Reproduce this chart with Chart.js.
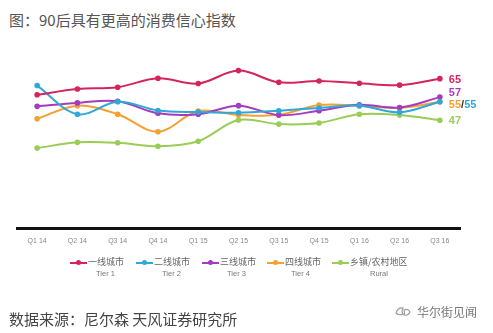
<!DOCTYPE html>
<html>
<head>
<meta charset="utf-8">
<script src="https://cdn.jsdelivr.net/npm/chart.js@4/dist/chart.umd.min.js"></script>
<style>
  html, body { margin: 0; padding: 0; background: #fff; }
  #wrap { position: relative; width: 493px; height: 333px; overflow: hidden; font-family: "Noto Sans CJK SC", "Noto Sans", sans-serif; }
  #chart { position: absolute; left: 0; top: 0; }
  .title { position: absolute; left: 9px; top: 9px; font-size: 15px; color: #555; white-space: nowrap; }
  .source { position: absolute; left: 9px; top: 308px; font-size: 15px; color: #444; white-space: nowrap; }
  .mark { position: absolute; left: 394px; top: 303px; font-size: 12px; color: #777; white-space: nowrap; display: flex; align-items: center; gap: 5px; }
  .legend { position: absolute; left: 0; top: 255px; width: 493px; height: 30px; }
  .item { position: absolute; top: 0; font-size: 9px; color: #666; white-space: nowrap; }
  .item .sw { position: absolute; top: 7px; left: 0; width: 17px; height: 2px; }
  .item .sw i { position: absolute; left: 6px; top: -2px; width: 5px; height: 5px; border-radius: 50%; }
  .item .cn { position: absolute; left: 18px; top: 0px; }
  .item .en { position: absolute; top: 14px; font-family: "Liberation Sans", sans-serif; font-size: 7.5px; color: #777; }
</style>
</head>
<body>
<div id="wrap">
  <div class="title">图：90后具有更高的消费信心指数</div>
  <canvas id="chart" width="493" height="333"></canvas>
  <div class="legend" id="legend"></div>
  <div class="source">数据来源：尼尔森 天风证券研究所</div>
  <div class="mark">
    <svg width="18" height="14" viewBox="0 0 18 14"><path d="M2 8 Q4 2 9 3 Q7 6 9 9 Q5 11 2 8 Z M10 5 Q14 3 16 7 Q14 11 10 10 Q11 8 10 5 Z" fill="none" stroke="#999" stroke-width="1.1"/></svg>
    <span>华尔街见闻</span>
  </div>
</div>
<script>
// Quarterly consumer confidence index by city tier
const quarters = ["Q1 14", "Q2 14", "Q3 14", "Q4 14", "Q1 15", "Q2 15", "Q3 15", "Q4 15", "Q1 16", "Q2 16", "Q3 16"];
const tier1 = [58, 60.5, 61.3, 65.2, 62.9, 68.5, 63.4, 64, 63, 62.2, 65];
const tier2 = [62, 49.6, 55, 51.2, 50.5, 50.2, 51.1, 52.3, 53.3, 50.4, 55];
const tier3 = [53, 54.5, 55.2, 50, 49.6, 53.3, 49.2, 51.1, 53.7, 52.5, 57];
const tier4 = [47.6, 53.3, 49.6, 42, 51, 49.3, 49.3, 53.6, 53.3, 52.3, 55];
const rural = [34.9, 37.4, 37.2, 35.7, 37.9, 47.1, 45.3, 45.8, 49.6, 49.2, 47];

const seriesNames = ["一线城市", "二线城市", "三线城市", "四线城市", "乡镇/农村地区"];
const seriesEn = ["Tier 1", "Tier 2", "Tier 3", "Tier 4", "Rural"];
const seriesColors = ["#d4245c", "#2fa8d8", "#a53cbf", "#f5a030", "#9acd55"];
const seriesData = [tier1, tier2, tier3, tier4, rural];

// legend, laid out by hand (Chinese name with English tier beneath)
const legendX = [70, 136, 202, 267, 332];
const legendEnX = [96, 162, 227, 291, 370];
const legendEl = document.getElementById("legend");
seriesNames.forEach((name, i) => {
  const it = document.createElement("div");
  it.className = "item";
  it.style.left = legendX[i] + "px";
  it.innerHTML = '<span class="sw" style="background:' + seriesColors[i] + '"><i style="background:' + seriesColors[i] + '"></i></span>' +
    '<span class="cn">' + name + '</span>' +
    '<span class="en" style="left:' + (legendEnX[i] - legendX[i]) + 'px">' + seriesEn[i] + '</span>';
  legendEl.appendChild(it);
});

// value tags at the right end of each line
const endLabels = {
  id: "endLabels",
  afterDatasetsDraw(chart) {
    const ctx = chart.ctx;
    const y = chart.scales.y;
    const metaX = (i) => chart.getDatasetMeta(i).data[quarters.length - 1].x;
    const x0 = metaX(0) + 9;
    ctx.save();
    ctx.font = "bold 11px 'Liberation Sans', sans-serif";
    ctx.textBaseline = "middle";
    ctx.textAlign = "left";
    const last = (arr) => arr[arr.length - 1];
    ctx.fillStyle = seriesColors[0];
    ctx.fillText(String(last(tier1)), x0, y.getPixelForValue(last(tier1)) + 1);
    ctx.fillStyle = seriesColors[2];
    ctx.fillText(String(last(tier3)), x0, y.getPixelForValue(last(tier3)) - 4);
    const yy = y.getPixelForValue(last(tier4)) + 3;
    const a = String(last(tier4));
    ctx.fillStyle = seriesColors[3];
    ctx.fillText(a, x0, yy);
    let w = ctx.measureText(a).width;
    ctx.fillStyle = "#333";
    ctx.fillText("/", x0 + w, yy);
    w += ctx.measureText("/").width;
    ctx.fillStyle = seriesColors[1];
    ctx.fillText(String(last(tier2)), x0 + w, yy);
    ctx.fillStyle = seriesColors[4];
    ctx.fillText(String(last(rural)), x0, y.getPixelForValue(last(rural)) + 1);
    ctx.restore();
  }
};

new Chart(document.getElementById("chart"), {
  type: "line",
  data: {
    labels: quarters,
    datasets: seriesData.map((d, i) => ({
      label: seriesNames[i],
      data: d,
      borderColor: seriesColors[i],
      backgroundColor: seriesColors[i],
      borderWidth: 2,
      pointRadius: 2.8,
      pointBorderWidth: 0,
      tension: 0.35,
      fill: false
    }))
  },
  options: {
    responsive: false,
    animation: false,
    layout: { padding: { left: 17, right: 33, top: 55.6, bottom: 80 } },
    plugins: { legend: { display: false }, tooltip: { enabled: false } },
    scales: {
      x: {
        offset: true,
        grid: { display: false, drawTicks: false },
        border: { display: true, color: "#111", width: 3 },
        ticks: { color: "#888", padding: 8, font: { family: "'Liberation Sans', sans-serif", size: 7 }, maxRotation: 0 }
      },
      y: {
        display: false,
        min: 0,
        max: 75
      }
    }
  },
  plugins: [endLabels]
});
</script>
</body>
</html>
